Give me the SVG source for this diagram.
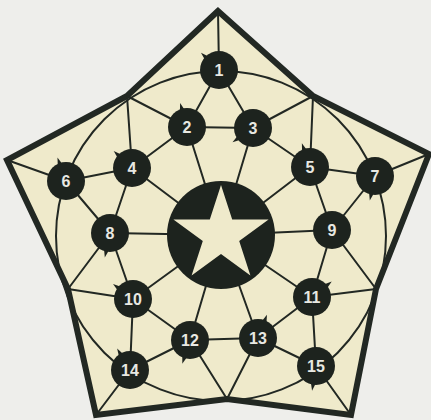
<svg xmlns="http://www.w3.org/2000/svg" xmlns:xlink="http://www.w3.org/1999/xlink" width="431" height="420" viewBox="0 0 431 420">
<style>
.ln{stroke:#222823;stroke-width:2;fill:none;stroke-linecap:round}
.nd{fill:#1d231e}
.lb{font-family:"Liberation Sans",Arial,sans-serif;font-weight:bold;font-size:16px;fill:#e8e8e2;text-anchor:middle}
</style>
<defs>
<path id="tick" d="M-2.5,-17 L0,-25 L2.5,-17 Z" fill="#1d231e"/>
</defs>
<rect width="431" height="420" fill="#eeeeeb"/>
<g id="frame">
<polygon points="218,11 127,96 7,160 68,289 96,415 227,399 351,415 376,289 429,154 313,96" fill="#efeacb" stroke="#222823" stroke-width="6" stroke-linejoin="miter"/>
<circle cx="221" cy="236" r="165" class="ln"/>
</g>
<g id="connectors" class="ln">
<line x1="218" y1="11" x2="219" y2="70"/>
<line x1="219" y1="70" x2="187" y2="127"/>
<line x1="219" y1="70" x2="253" y2="128"/>
<line x1="187" y1="127" x2="253" y2="128"/>
<line x1="187" y1="127" x2="127" y2="96"/>
<line x1="253" y1="128" x2="313" y2="96"/>
<line x1="127" y1="96" x2="132" y2="168"/>
<line x1="313" y1="96" x2="310" y2="167"/>
<line x1="187" y1="127" x2="132" y2="168"/>
<line x1="253" y1="128" x2="310" y2="167"/>
<line x1="187" y1="127" x2="221" y2="235"/>
<line x1="253" y1="128" x2="221" y2="235"/>
<line x1="132" y1="168" x2="221" y2="235"/>
<line x1="310" y1="167" x2="221" y2="235"/>
<line x1="132" y1="168" x2="66" y2="181"/>
<line x1="310" y1="167" x2="375" y2="176"/>
<line x1="66" y1="181" x2="7" y2="160"/>
<line x1="375" y1="176" x2="429" y2="154"/>
<line x1="66" y1="181" x2="110" y2="233"/>
<line x1="132" y1="168" x2="110" y2="233"/>
<line x1="375" y1="176" x2="332" y2="230"/>
<line x1="310" y1="167" x2="332" y2="230"/>
<line x1="110" y1="233" x2="221" y2="235"/>
<line x1="332" y1="230" x2="221" y2="235"/>
<line x1="110" y1="233" x2="133" y2="299"/>
<line x1="110" y1="233" x2="68" y2="289"/>
<line x1="68" y1="289" x2="133" y2="299"/>
<line x1="133" y1="299" x2="221" y2="235"/>
<line x1="133" y1="299" x2="190" y2="340"/>
<line x1="133" y1="299" x2="130" y2="370"/>
<line x1="130" y1="370" x2="96" y2="415"/>
<line x1="130" y1="370" x2="190" y2="340"/>
<line x1="190" y1="340" x2="258" y2="338"/>
<line x1="190" y1="340" x2="221" y2="235"/>
<line x1="258" y1="338" x2="221" y2="235"/>
<line x1="190" y1="340" x2="227" y2="399"/>
<line x1="258" y1="338" x2="227" y2="399"/>
<line x1="258" y1="338" x2="312" y2="297"/>
<line x1="258" y1="338" x2="316" y2="366"/>
<line x1="312" y1="297" x2="221" y2="235"/>
<line x1="332" y1="230" x2="312" y2="297"/>
<line x1="332" y1="230" x2="376" y2="289"/>
<line x1="312" y1="297" x2="376" y2="289"/>
<line x1="312" y1="297" x2="316" y2="366"/>
<line x1="316" y1="366" x2="351" y2="415"/>
</g>
<g id="center">
<circle cx="221" cy="235" r="54" fill="#1d231e"/>
<polygon points="221,185 232.2,219.6 268.6,219.6 239.2,240.9 250.4,275.5 221,254.1 191.6,275.5 202.8,240.9 173.4,219.6 209.8,219.6" fill="#efeacb"/>
</g>
<g id="n1"><use xlink:href="#tick" transform="translate(219,70) rotate(-46)"/><circle class="nd" cx="219" cy="70" r="19"/><text class="lb" x="219" y="76">1</text></g>
<g id="n2"><use xlink:href="#tick" transform="translate(187,127) rotate(-16)"/><circle class="nd" cx="187" cy="127" r="19"/><text class="lb" x="187" y="133">2</text></g>
<g id="n3"><use xlink:href="#tick" transform="translate(253,128) rotate(-125)"/><circle class="nd" cx="253" cy="128" r="19"/><text class="lb" x="253" y="134">3</text></g>
<g id="n4"><use xlink:href="#tick" transform="translate(132,168) rotate(-47)"/><circle class="nd" cx="132" cy="168" r="19"/><text class="lb" x="132" y="174">4</text></g>
<g id="n5"><use xlink:href="#tick" transform="translate(310,167) rotate(-19)"/><circle class="nd" cx="310" cy="167" r="19"/><text class="lb" x="310" y="173">5</text></g>
<g id="n6"><use xlink:href="#tick" transform="translate(66,181) rotate(-20)"/><circle class="nd" cx="66" cy="181" r="19"/><text class="lb" x="66" y="187">6</text></g>
<g id="n7"><use xlink:href="#tick" transform="translate(375,176) rotate(-168)"/><circle class="nd" cx="375" cy="176" r="19"/><text class="lb" x="375" y="182">7</text></g>
<g id="n8"><use xlink:href="#tick" transform="translate(110,233) rotate(-168)"/><circle class="nd" cx="110" cy="233" r="19"/><text class="lb" x="110" y="239">8</text></g>
<g id="n9"><circle class="nd" cx="332" cy="230" r="19"/><text class="lb" x="332" y="236">9</text></g>
<g id="n10"><use xlink:href="#tick" transform="translate(133,299) rotate(-53)"/><circle class="nd" cx="133" cy="299" r="19"/><text class="lb" x="133" y="305">10</text></g>
<g id="n11"><use xlink:href="#tick" transform="translate(312,297) rotate(52)"/><circle class="nd" cx="312" cy="297" r="19"/><text class="lb" x="312" y="303">11</text></g>
<g id="n12"><use xlink:href="#tick" transform="translate(190,340) rotate(-162)"/><circle class="nd" cx="190" cy="340" r="19"/><text class="lb" x="190" y="346">12</text></g>
<g id="n13"><use xlink:href="#tick" transform="translate(258,338) rotate(21)"/><circle class="nd" cx="258" cy="338" r="19"/><text class="lb" x="258" y="344">13</text></g>
<g id="n14"><use xlink:href="#tick" transform="translate(130,370) rotate(-31)"/><circle class="nd" cx="130" cy="370" r="19"/><text class="lb" x="130" y="376">14</text></g>
<g id="n15"><use xlink:href="#tick" transform="translate(316,366) rotate(-171)"/><circle class="nd" cx="316" cy="366" r="19"/><text class="lb" x="316" y="372">15</text></g>
</svg>
